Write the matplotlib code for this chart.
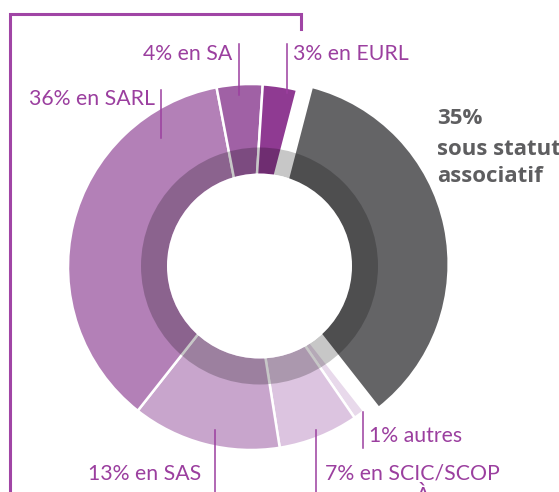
import matplotlib
matplotlib.use("Agg")
import matplotlib.pyplot as plt
from matplotlib.patches import Wedge, Circle
from matplotlib.lines import Line2D

# ---- data ----
categories = ["sous statut associatif", "autres", "SCIC/SCOP", "SAS", "SARL", "SA", "EURL"]
values = [35, 1, 7, 13, 36, 4, 3]
labels = ["35%\nsous statut\nassociatif", "1% autres", "7% en SCIC/SCOP",
          "13% en SAS", "36% en SARL", "4% en SA", "3% en EURL"]
colors = ["#646466", "#e8d9eb", "#dcc4e0", "#c8a5cc", "#b380b7", "#a061a5", "#8f3a92"]

W, H = 559, 492
PURPLE = "#9b3f9f"
GRAY_TXT = "#5e5e60"

fig = plt.figure(figsize=(W / 100, H / 100), dpi=100)
ax = fig.add_axes([0, 0, 1, 1])

def Y(y):
    return H - y

# outer donut
outer_c = (251, Y(267))
R = 183
explode = [15, 0, 0, 0, 0, 0, 0]
wedges, _ = ax.pie(values, radius=R, center=outer_c, colors=colors,
                   startangle=90 - 14.6, counterclock=False, explode=explode,
                   wedgeprops=dict(width=R - 55, edgecolor="white", linewidth=1.8))

# darker inner band and hole
inner_c = (259.5, Y(266))
ax.add_patch(Wedge(inner_c, 118.5, 0, 360, width=26, facecolor="black",
                   alpha=0.22, edgecolor="none", zorder=5))
ax.add_patch(Circle(inner_c, 92.5, facecolor="white", edgecolor="none", zorder=6))

ax.set_xlim(0, W)
ax.set_ylim(0, H)
ax.set_aspect("auto")
ax.axis("off")

# bracket
ax.add_line(Line2D([10, 10, 301, 301], [Y(500), Y(13.5), Y(13.5), Y(29)],
                   color="#a045a5", lw=2.2, solid_joinstyle="miter", zorder=7))

fam = ["Lato", "DejaVu Sans"]
fs = 15.3

def leader(x, y0, y1):
    ax.add_line(Line2D([x, x], [Y(y0), Y(y1)], color=PURPLE, lw=1.1, zorder=8))

# grey label, one line at a time
for line, base in zip(labels[0].split("\n"), [124, 155, 182]):
    ax.text(437, Y(base), line, color=GRAY_TXT, fontsize=16, fontweight="bold",
            family=["Open Sans", "DejaVu Sans"], ha="left", va="baseline")

ax.text(155, Y(99), labels[4], color=PURPLE, fontsize=fs, family=fam, ha="right", va="center")
ax.text(232, Y(54), labels[5], color=PURPLE, fontsize=fs, family=fam, ha="right", va="center")
ax.text(293, Y(54), labels[6], color=PURPLE, fontsize=fs, family=fam, ha="left", va="center")
ax.text(369, Y(436), labels[1], color=PURPLE, fontsize=fs, family=fam, ha="left", va="center")
ax.text(201, Y(474), labels[3], color=PURPLE, fontsize=fs, family=fam, ha="right", va="center")
ax.text(325, Y(474), labels[2], color=PURPLE, fontsize=fs, family=fam, ha="left", va="center")
ax.text(423, Y(486), "À", color=PURPLE, fontsize=fs, family=fam, ha="center", va="top")

leader(239, 44, 95)
leader(287, 44, 93)
leader(160.5, 90, 138)
leader(362.7, 412, 448)
leader(215, 430, 500)
leader(316, 430, 500)

fig.savefig("out.png", dpi=100)
